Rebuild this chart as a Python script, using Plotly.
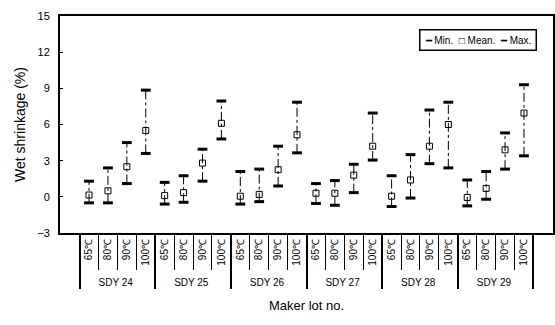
import plotly.graph_objects as go

groups = ["SDY 24", "SDY 25", "SDY 26", "SDY 27", "SDY 28", "SDY 29"]
temps = ["65℃", "80℃", "90℃", "100℃"]

y_min = [-0.5, -0.5, 1.1, 3.6,
         -0.6, -0.45, 1.3, 4.8,
         -0.6, -0.4, 0.9, 3.65,
         -0.55, -0.7, 0.35, 3.05,
         -0.8, -0.1, 2.75, 2.4,
         -0.75, -0.2, 2.3, 3.4]
y_mean = [0.15, 0.5, 2.5, 5.5,
          0.1, 0.35, 2.8, 6.1,
          0.05, 0.2, 2.25, 5.15,
          0.3, 0.3, 1.8, 4.2,
          0.05, 1.4, 4.2, 6.0,
          -0.05, 0.7, 3.9, 6.95]
y_max = [1.3, 2.4, 4.5, 8.85,
         1.2, 1.75, 3.95, 7.95,
         2.1, 2.3, 4.2, 7.85,
         1.1, 1.35, 2.7, 6.95,
         1.75, 3.5, 7.2, 7.85,
         1.4, 2.1, 5.3, 9.3]

y_ticks = [-3, 0, 3, 6, 9, 12, 15]

x_outer = [g for g in groups for _ in temps]
x_inner = [t for _ in groups for t in temps]

# whisker segments min->max, broken with None
wx_o, wx_i, wy = [], [], []
for g, t, lo, hi in zip(x_outer, x_inner, y_min, y_max):
    wx_o += [g, g, g]
    wx_i += [t, t, t]
    wy += [lo, hi, None]

fig = go.Figure()
fig.add_trace(go.Scatter(x=[wx_o, wx_i], y=wy, mode="lines",
                         line=dict(color="black", width=1, dash="dashdot"),
                         connectgaps=False, showlegend=False, hoverinfo="skip"))
fig.add_trace(go.Scatter(x=[x_outer, x_inner], y=y_min, mode="markers", name="Min.",
                         marker=dict(symbol="line-ew", size=7, line=dict(color="black", width=3))))
fig.add_trace(go.Scatter(x=[x_outer, x_inner], y=y_max, mode="markers", name="Max.",
                         marker=dict(symbol="line-ew", size=7, line=dict(color="black", width=3))))
fig.add_trace(go.Scatter(x=[x_outer, x_inner], y=y_mean, mode="markers", name="Mean.",
                         marker=dict(symbol="square-open", size=6, color="black",
                                     line=dict(color="black", width=1))))

fig.add_annotation(xref="paper", yref="paper", x=0.848, y=0.889,
                   xanchor="center", yanchor="middle", showarrow=False,
                   text="━ Min.  □ Mean.  ━ Max.",
                   font=dict(size=10, color="black", family="Liberation Sans"),
                   bordercolor="black", borderwidth=1.5, borderpad=4, bgcolor="white")

fig.update_layout(
    width=555, height=325,
    margin=dict(l=60, r=2, t=16, b=92),
    paper_bgcolor="white", plot_bgcolor="white",
    showlegend=False,
    font=dict(family="Liberation Sans", color="black"),
)
fig.update_yaxes(range=[-3, 15], tickvals=y_ticks, showgrid=False, zeroline=False,
                 automargin=False,
                 showline=True, linecolor="black", linewidth=2, mirror=True,
                 ticks="inside", ticklen=3, tickcolor="black",
                 tickfont=dict(size=11), ticklabelstandoff=6,
                 title=dict(text="Wet shrinkage (%)", font=dict(size=14), standoff=8))
fig.update_xaxes(type="multicategory", showgrid=False, showline=True, linecolor="black",
                 automargin=False,
                 linewidth=2, mirror=True, tickangle=-90, tickfont=dict(size=10),
                 ticks="outside", ticklen=35, tickcolor="black", tickwidth=1.2,
                 showdividers=True, dividercolor="black", dividerwidth=1.5,
                 title=dict(text="Maker lot no.", font=dict(size=13), standoff=14))

fig.write_html("out.html", config={"displayModeBar": False},
               post_script="document.body.style.margin='0';")
